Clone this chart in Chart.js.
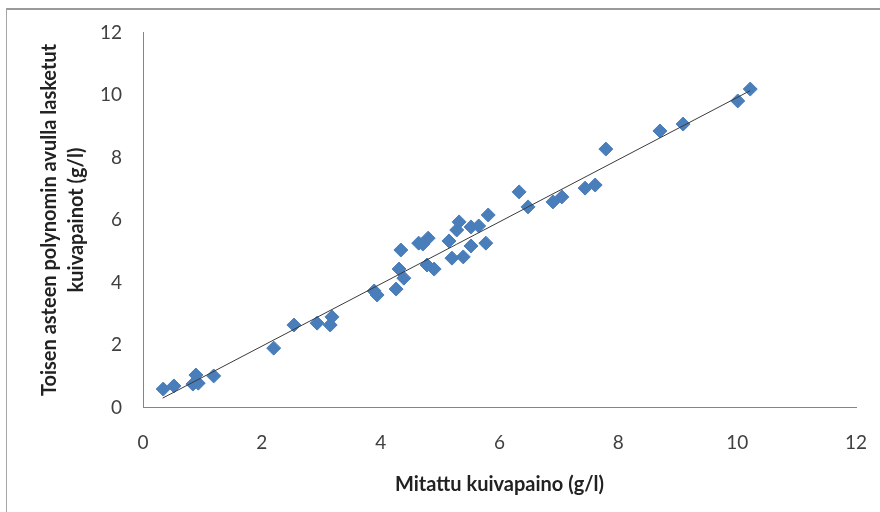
<!DOCTYPE html>
<html>
<head>
<meta charset="utf-8">
<script src="https://cdn.jsdelivr.net/npm/chart.js@4"></script>
<style>
  html, body { margin: 0; padding: 0; background: #fff; overflow: hidden; }
  #wrap { position: relative; width: 880px; height: 512px; }
  #frame {
    position: absolute; left: 6px; top: 8px; width: 900px; height: 520px;
    border-left: 1px solid #a6a6a6; border-top: 2px solid #9a9a9a;
  }
  #chart { position: absolute; left: 0; top: 0; }
</style>
</head>
<body>
<div id="wrap">
  <div id="frame"></div>
  <canvas id="chart" width="880" height="512"></canvas>
</div>
<script>
// Mitattu vs. laskettu kuivapaino (g/l)
const measured = [0.34, 0.52, 0.84, 0.89, 0.93, 1.19, 2.20, 2.54, 2.93, 3.15, 3.18,
  3.89, 3.94, 4.26, 4.31, 4.39, 4.34, 4.64, 4.71, 4.80, 4.78, 4.90, 5.15, 5.20,
  5.32, 5.28, 5.39, 5.52, 5.52, 5.65, 5.77, 5.81, 6.33, 6.48, 6.90, 7.05, 7.44,
  7.61, 7.79, 8.70, 9.09, 10.01, 10.22];
const calculated = [0.59, 0.69, 0.75, 1.04, 0.78, 1.01, 1.90, 2.64, 2.70, 2.64, 2.90,
  3.73, 3.60, 3.79, 4.43, 4.14, 5.04, 5.26, 5.23, 5.42, 4.56, 4.43, 5.33, 4.78,
  5.94, 5.68, 4.82, 5.78, 5.17, 5.81, 5.26, 6.16, 6.90, 6.42, 6.58, 6.74, 7.02,
  7.12, 8.27, 8.85, 9.07, 9.81, 10.19];

// lineaarinen trendiviiva
const trendX = [0.33, 10.22];
const trendY = [0.30, 10.14];

const axisTicks = [0, 2, 4, 6, 8, 10, 12];
const xTitle = "Mitattu kuivapaino (g/l)";
const yTitle = ["Toisen asteen polynomin avulla lasketut", "kuivapainot (g/l)"];

const FONT = "Lato, 'Open Sans', sans-serif";

const points = measured.map((x, i) => ({ x: x, y: calculated[i] }));
const trend = trendX.map((x, i) => ({ x: x, y: trendY[i] }));

new Chart(document.getElementById("chart"), {
  type: "scatter",
  data: {
    datasets: [
      {
        type: "line",
        data: trend,
        borderColor: "#3a3a3a",
        borderWidth: 1,
        pointRadius: 0,
        fill: false
      },
      {
        data: points,
        pointStyle: "rectRot",
        pointRadius: 7,
        pointHoverRadius: 7,
        backgroundColor: "#4a7ebb",
        borderColor: "#4a7ebb",
        borderWidth: 1
      }
    ]
  },
  options: {
    responsive: false,
    animation: false,
    events: [],
    layout: { autoPadding: false, padding: { top: 32.5, right: 24, left: 0, bottom: 0 } },
    plugins: { legend: { display: false }, tooltip: { enabled: false } },
    scales: {
      x: {
        type: "linear",
        min: 0, max: 12,
        afterBuildTicks: s => { s.ticks = axisTicks.map(v => ({ value: v })); },
        afterFit: s => { s.height = 104.5; s.paddingRight = 0; },
        grid: { display: false, drawTicks: false },
        border: { display: true, color: "#868686", width: 1 },
        ticks: { padding: 24, color: "#404040", font: { family: FONT, size: 19 } },
        title: {
          display: true, text: xTitle, color: "#222",
          padding: { top: 0, bottom: 15 },
          font: { family: FONT, size: 20, weight: "bold", lineHeight: 1.2 }
        }
      },
      y: {
        type: "linear",
        min: 0, max: 12,
        afterBuildTicks: s => { s.ticks = axisTicks.map(v => ({ value: v })); },
        afterFit: s => { s.width = 143; },
        grid: { display: false, drawTicks: false },
        border: { display: true, color: "#868686", width: 1 },
        ticks: { padding: 21, color: "#404040", font: { family: FONT, size: 19 } },
        title: {
          display: true, text: yTitle, color: "#222",
          padding: { top: 36, bottom: 0 },
          font: { family: FONT, size: 20, weight: "bold", lineHeight: 1.35 }
        }
      }
    }
  }
});
</script>
</body>
</html>
